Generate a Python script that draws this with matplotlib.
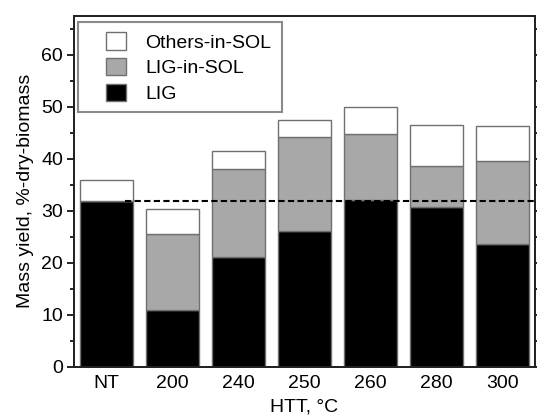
import matplotlib
matplotlib.use("Agg")
import matplotlib.pyplot as plt
from matplotlib.patches import Patch, Rectangle
from matplotlib.ticker import MultipleLocator
import numpy as np

plt.rcParams['font.family'] = ['Liberation Sans', 'DejaVu Sans']

categories = ["NT", "200", "240", "250", "260", "280", "300"]
lig = [31.9, 10.9, 21.0, 26.0, 32.0, 30.6, 23.6]
lig_in_sol = [0.0, 14.7, 17.0, 18.2, 12.8, 8.0, 16.0]
others_in_sol = [3.9, 4.7, 3.4, 3.3, 5.2, 7.8, 6.7]
reference_line = 31.9

x = np.arange(len(categories))
lig = np.array(lig)
lis = np.array(lig_in_sol)
oth = np.array(others_in_sol)

fig = plt.figure(figsize=(5.37, 4.17), dpi=100)
ax = fig.add_axes([0.1378, 0.1206, 0.9963 - 0.1378, 0.9616 - 0.1206])

w = 0.80
ec = '#707070'
ax.bar(x, lig, w, color='black', edgecolor=ec, linewidth=1.0, zorder=2)
ax.bar(x, lis, w, bottom=lig, color='#a8a8a8', edgecolor=ec, linewidth=1.0, zorder=2)
ax.bar(x, oth, w, bottom=lig + lis, color='white', edgecolor=ec, linewidth=1.0, zorder=2)

ax.plot([0.28, 6.5], [reference_line, reference_line], color='black', lw=1.5,
        dashes=(3, 1.6), zorder=3)

ax.set_xlim(-0.49, 6.495)
ax.set_ylim(0, 67.4)
ax.set_xticks(x)
ax.set_xticklabels(categories)
ax.yaxis.set_major_locator(MultipleLocator(10))
ax.yaxis.set_minor_locator(MultipleLocator(5))
ax.tick_params(axis='x', length=0, pad=6, labelsize=14)
ax.tick_params(axis='y', which='major', direction='out', length=5, width=1.2, pad=3, labelsize=14)
ax.tick_params(axis='y', which='minor', direction='out', length=3, width=1.2)

ax2 = ax.twinx()
ax2.set_ylim(ax.get_ylim())
ax2.yaxis.set_major_locator(MultipleLocator(5))
ax2.tick_params(axis='y', direction='out', length=2.5, width=1.2, labelright=False)

for a in (ax, ax2):
    for s in a.spines.values():
        s.set_linewidth(1.3)
        s.set_color('#222222')

ax.set_ylabel("Mass yield, %-dry-biomass", fontsize=14, labelpad=5)
ax.set_xlabel("HTT, °C", fontsize=14, labelpad=5)

# legend frame
ax.add_patch(Rectangle((0.0093, 0.727), 0.4413, 0.257, transform=ax.transAxes,
                       facecolor='white', edgecolor='#8a8a8a', linewidth=1.5, zorder=4,
                       clip_on=False))
handles = [Patch(facecolor='white', edgecolor=ec, label='Others-in-SOL'),
           Patch(facecolor='#a8a8a8', edgecolor=ec, label='LIG-in-SOL'),
           Patch(facecolor='black', edgecolor=ec, label='LIG')]
leg = ax.legend(handles=handles, loc='upper left', bbox_to_anchor=(0.07, 0.953),
                frameon=False, fontsize=14, handlelength=1.0, handleheight=1.0,
                handletextpad=1.0, labelspacing=0.32, borderpad=0.0, borderaxespad=0)
leg.set_zorder(5)

fig.savefig("out.png", dpi=100)
